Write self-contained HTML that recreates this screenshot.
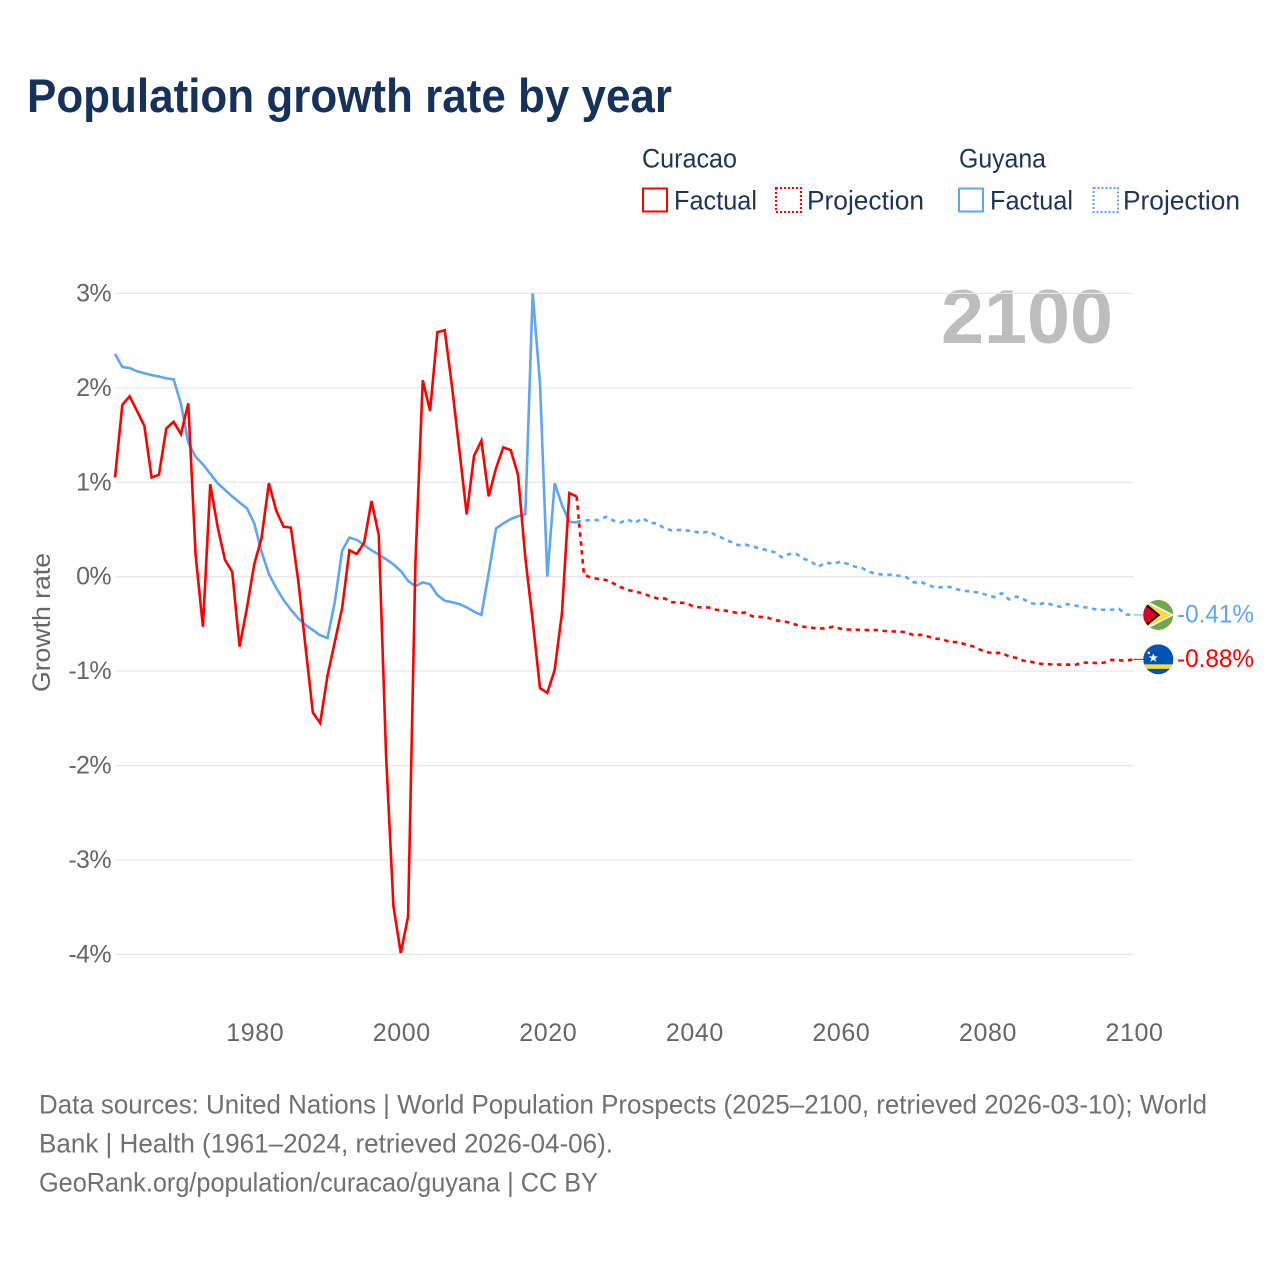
<!DOCTYPE html>
<html lang="en">
<head>
<meta charset="utf-8">
<title>Population growth rate by year</title>
<style>
html,body{margin:0;padding:0;background:#fff;}
svg{display:block;font-family:"Liberation Sans",sans-serif;}
</style>
</head>
<body>
<svg id="chart" width="1280" height="1280" viewBox="0 0 1280 1280" xmlns="http://www.w3.org/2000/svg">
  <rect width="1280" height="1280" fill="#fff"/>
  <text x="27" y="112" font-size="47" font-weight="700" fill="#17325a" textLength="645" lengthAdjust="spacingAndGlyphs">Population growth rate by year</text>

  <g font-size="26.500" fill="#1c3557">
    <text x="642" y="167.500" textLength="95" lengthAdjust="spacingAndGlyphs">Curacao</text>
    <rect x="643" y="188.500" width="24" height="23" fill="none" stroke="#ff0000" stroke-width="2"/>
    <text x="674" y="209.500" textLength="83" lengthAdjust="spacingAndGlyphs">Factual</text>
    <rect x="776" y="188" width="25" height="24" fill="none" stroke="#ff0000" stroke-width="2" stroke-dasharray="2 2"/>
    <text x="807" y="209.500" textLength="117" lengthAdjust="spacingAndGlyphs">Projection</text>
    <text x="959" y="167.500" textLength="87" lengthAdjust="spacingAndGlyphs">Guyana</text>
    <rect x="959" y="188.500" width="24" height="23" fill="none" stroke="#5fa6ef" stroke-width="2"/>
    <text x="990" y="209.500" textLength="83" lengthAdjust="spacingAndGlyphs">Factual</text>
    <rect x="1093.500" y="188" width="24.500" height="24" fill="none" stroke="#5fa6ef" stroke-width="2" stroke-dasharray="2 2"/>
    <text x="1123" y="209.500" textLength="117" lengthAdjust="spacingAndGlyphs">Projection</text>
  </g>

  <text x="1113" y="343" font-size="76" font-weight="700" fill="#bdbdbd" text-anchor="end" textLength="172" lengthAdjust="spacingAndGlyphs">2100</text>
  <text transform="translate(50 622.500) rotate(-90)" font-size="25" fill="#666" text-anchor="middle" textLength="139" lengthAdjust="spacingAndGlyphs">Growth rate</text>

  <g id="grid"></g>
  <g id="yticks" font-size="25" fill="#666" text-anchor="end"></g>
  <g id="xticks" font-size="25" fill="#666" text-anchor="middle"></g>
  <g id="series" fill="none"></g>

  <defs>
    <clipPath id="flag-clip-g"><circle cx="0" cy="0" r="15"/></clipPath>
  </defs>
  <g id="flag-guyana" clip-path="url(#flag-clip-g)">
    <rect x="-15" y="-15" width="30" height="30" fill="#6fa84a"/>
    <path d="M-15 -16 L16 0 L-15 16 Z" fill="#f4f4f4"/>
    <path d="M-14 -13 L13 0 L-14 13 Z" fill="#ffda44"/>
    <path d="M-15 -14 L2 0 L-15 14 Z" fill="#111"/>
    <path d="M-15 -11 L-1 0 L-15 11 Z" fill="#d80027"/>
  </g>
  <g id="flag-curacao" clip-path="url(#flag-clip-g)">
    <rect x="-15" y="-15" width="30" height="30" fill="#0052b4"/>
    <rect x="-15" y="5" width="30" height="4.500" fill="#ffda44"/>
    <path d="M-5 -6 L-3.700 -3 L-0.300 -2.900 L-3 -0.800 L-2 2.500 L-5 .5 L-8 2.500 L-7 -0.800 L-9.700 -2.900 L-6.300 -3 Z" fill="#f0f0f0"/>
    <circle cx="-9.500" cy="-6.500" r="1.300" fill="#f0f0f0"/>
  </g>
  <text id="label-guyana" x="1177" font-size="25" fill="#5fa6ef" textLength="77" lengthAdjust="spacingAndGlyphs"></text>
  <text id="label-curacao" x="1177" font-size="25" fill="#ff0000" textLength="77" lengthAdjust="spacingAndGlyphs"></text>

  <g font-size="26.500" fill="#707070">
    <text x="39" y="1113.500" textLength="1168" lengthAdjust="spacingAndGlyphs">Data sources: United Nations | World Population Prospects (2025–2100, retrieved 2026-03-10); World</text>
    <text x="39" y="1152.500" textLength="574" lengthAdjust="spacingAndGlyphs">Bank | Health (1961–2024, retrieved 2026-04-06).</text>
    <text x="39" y="1191.500" textLength="559" lengthAdjust="spacingAndGlyphs">GeoRank.org/population/curacao/guyana | CC BY</text>
  </g>
</svg>

<script>
const factualStartYear = 1961;
const projectionStartYear = 2024;
const xTickYears = [1980, 2000, 2020, 2040, 2060, 2080, 2100];
const yTickValues = [3, 2, 1, 0, -1, -2, -3, -4];
const yTickLabels = ["3%", "2%", "1%", "0%", "-1%", "-2%", "-3%", "-4%"];
const curacaoEndLabel = "-0.88%";
const guyanaEndLabel = "-0.41%";

const curacaoFactual = [1.05,1.82,1.91,1.755,1.6,1.05,1.08,1.57,1.64,1.51,1.835,0.23,-0.53,0.98,0.53,0.18,0.05,-0.74,-0.335,0.13,0.41,0.99,0.7,0.53,0.52,-0.035,-0.74,-1.44,-1.55,-1.05,-0.69,-0.33,0.28,0.24,0.36,0.8,0.44,-1.9,-3.49,-3.985,-3.6,0.15,2.08,1.755,2.59,2.61,2.01,1.34,0.66,1.28,1.44,0.85,1.15,1.37,1.34,1.08,0.2,-0.46,-1.18,-1.23,-0.99,-0.385,0.885,0.85];
const guyanaFactual = [2.36,2.22,2.21,2.175,2.155,2.135,2.12,2.1,2.09,1.83,1.42,1.27,1.19,1.09,0.99,0.92,0.85,0.785,0.725,0.565,0.265,0.03,-0.12,-0.245,-0.35,-0.44,-0.51,-0.565,-0.62,-0.65,-0.265,0.275,0.415,0.39,0.335,0.28,0.235,0.185,0.13,0.06,-0.045,-0.1,-0.06,-0.08,-0.195,-0.255,-0.27,-0.29,-0.325,-0.37,-0.405,0.035,0.51,0.565,0.61,0.64,0.66,3.0,2.05,0.0,0.99,0.76,0.58,0.575];
const curacaoProjection = [0.85,0.018,-0.01,-0.025,-0.035,-0.07,-0.11,-0.14,-0.16,-0.175,-0.205,-0.23,-0.23,-0.27,-0.275,-0.28,-0.32,-0.325,-0.325,-0.35,-0.355,-0.37,-0.385,-0.38,-0.42,-0.425,-0.43,-0.46,-0.47,-0.485,-0.51,-0.53,-0.54,-0.55,-0.545,-0.53,-0.55,-0.56,-0.56,-0.565,-0.565,-0.565,-0.575,-0.58,-0.58,-0.59,-0.62,-0.615,-0.635,-0.655,-0.665,-0.695,-0.69,-0.715,-0.735,-0.77,-0.8,-0.81,-0.805,-0.845,-0.86,-0.89,-0.9,-0.92,-0.925,-0.93,-0.93,-0.93,-0.935,-0.91,-0.91,-0.915,-0.91,-0.88,-0.885,-0.89,-0.875];
const guyanaProjection = [0.58,0.595,0.6,0.6,0.635,0.595,0.575,0.605,0.57,0.62,0.57,0.565,0.51,0.49,0.495,0.49,0.48,0.46,0.48,0.44,0.405,0.37,0.335,0.34,0.32,0.3,0.28,0.26,0.205,0.24,0.24,0.19,0.16,0.105,0.15,0.135,0.16,0.135,0.105,0.09,0.05,0.03,0.02,0.02,0.01,-0.005,-0.06,-0.055,-0.09,-0.115,-0.11,-0.11,-0.135,-0.15,-0.16,-0.17,-0.195,-0.215,-0.175,-0.24,-0.21,-0.24,-0.28,-0.295,-0.275,-0.3,-0.32,-0.29,-0.305,-0.32,-0.33,-0.35,-0.35,-0.35,-0.34,-0.4,-0.405];

const svgNS = "http://www.w3.org/2000/svg";
function xScale(year) { return 115 + (year - 1961) * (1133.5 - 115) / (2100 - 1961); }
function yScale(value) { return 576.7 - value * 94.43; }
function linePath(values, startYear) {
  return values.map(function (v, i) {
    return (i ? "L" : "M") + xScale(startYear + i).toFixed(2) + " " + yScale(v).toFixed(2);
  }).join(" ");
}

const gridGroup = document.getElementById("grid");
const yTickGroup = document.getElementById("yticks");
yTickValues.forEach(function (value, i) {
  const gridLine = document.createElementNS(svgNS, "line");
  
  
  gridLine.setAttribute("x1", 115);
  gridLine.setAttribute("x2", 1133.5);
  gridLine.setAttribute("y1", yScale(value));
  gridLine.setAttribute("y2", yScale(value));
  gridLine.setAttribute("stroke", "#e8e8e8");
  gridLine.setAttribute("stroke-width", "1.3");
  gridGroup.appendChild(gridLine);

  const tick = document.createElementNS(svgNS, "text");
  
  
  tick.setAttribute("x", 111);
  tick.setAttribute("y", yScale(value) + 8);
  tick.setAttribute("letter-spacing", "-0.6");
  tick.textContent = yTickLabels[i];
  yTickGroup.appendChild(tick);
});

const xTickGroup = document.getElementById("xticks");
xTickYears.forEach(function (year) {
  const tick = document.createElementNS(svgNS, "text");
  
  
  tick.setAttribute("x", xScale(year) + 1);
  tick.setAttribute("y", 1041);
  tick.setAttribute("letter-spacing", "0.6");
  tick.textContent = String(year);
  xTickGroup.appendChild(tick);
});

const seriesGroup = document.getElementById("series");

const guyanaFactualLine = document.createElementNS(svgNS, "path");


guyanaFactualLine.setAttribute("d", linePath(guyanaFactual, factualStartYear));
guyanaFactualLine.setAttribute("stroke", "#5fa6ef");
guyanaFactualLine.setAttribute("stroke-width", "2.6");
seriesGroup.appendChild(guyanaFactualLine);

const guyanaProjectionLine = document.createElementNS(svgNS, "path");


guyanaProjectionLine.setAttribute("d", linePath(guyanaProjection, projectionStartYear));
guyanaProjectionLine.setAttribute("stroke", "#5fa6ef");
guyanaProjectionLine.setAttribute("stroke-width", "2.6");
guyanaProjectionLine.setAttribute("stroke-dasharray", "4.5 4.5");
seriesGroup.appendChild(guyanaProjectionLine);

const curacaoFactualLine = document.createElementNS(svgNS, "path");


curacaoFactualLine.setAttribute("d", linePath(curacaoFactual, factualStartYear));
curacaoFactualLine.setAttribute("stroke", "#ff0000");
curacaoFactualLine.setAttribute("stroke-width", "2.6");
seriesGroup.appendChild(curacaoFactualLine);

const curacaoProjectionLine = document.createElementNS(svgNS, "path");


curacaoProjectionLine.setAttribute("d", linePath(curacaoProjection, projectionStartYear));
curacaoProjectionLine.setAttribute("stroke", "#ff0000");
curacaoProjectionLine.setAttribute("stroke-width", "2.6");
curacaoProjectionLine.setAttribute("stroke-dasharray", "4.5 4.5");
seriesGroup.appendChild(curacaoProjectionLine);

const guyanaLast = guyanaProjection[guyanaProjection.length - 1];
const curacaoLast = curacaoProjection[curacaoProjection.length - 1];

const guyanaLeader = document.createElementNS(svgNS, "line");


guyanaLeader.setAttribute("x1", xScale(2100));
guyanaLeader.setAttribute("x2", xScale(2100) + 10);
guyanaLeader.setAttribute("y1", yScale(guyanaLast));
guyanaLeader.setAttribute("y2", yScale(guyanaLast));
guyanaLeader.setAttribute("stroke", "#5fa6ef");
guyanaLeader.setAttribute("stroke-width", "1");
seriesGroup.appendChild(guyanaLeader);

const curacaoLeader = document.createElementNS(svgNS, "line");


curacaoLeader.setAttribute("x1", xScale(2100));
curacaoLeader.setAttribute("x2", xScale(2100) + 10);
curacaoLeader.setAttribute("y1", yScale(curacaoLast));
curacaoLeader.setAttribute("y2", yScale(curacaoLast));
curacaoLeader.setAttribute("stroke", "#ff0000");
curacaoLeader.setAttribute("stroke-width", "1");
seriesGroup.appendChild(curacaoLeader);

document.getElementById("flag-guyana").setAttribute("transform", "translate(1158.3 " + yScale(guyanaLast) + ")");
document.getElementById("flag-curacao").setAttribute("transform", "translate(1158.3 " + yScale(curacaoLast) + ")");
const guyanaLabel = document.getElementById("label-guyana");
guyanaLabel.setAttribute("y", yScale(guyanaLast) + 7.5);
guyanaLabel.textContent = guyanaEndLabel;
const curacaoLabel = document.getElementById("label-curacao");
curacaoLabel.setAttribute("y", yScale(curacaoLast) + 7.5);
curacaoLabel.textContent = curacaoEndLabel;
</script>
</body>
</html>
